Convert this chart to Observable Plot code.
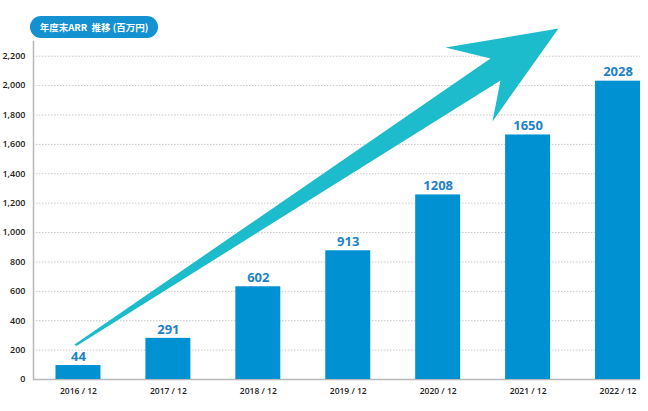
<!DOCTYPE html>
<html>
<head>
<meta charset="utf-8">
<script src="https://cdn.jsdelivr.net/npm/d3@7"></script>
<script src="https://cdn.jsdelivr.net/npm/@observablehq/plot@0.6"></script>
<style>
  html, body { margin: 0; padding: 0; background: #fff; }
  #wrap { position: relative; width: 648px; height: 411px; font-family: "Open Sans", "Noto Sans CJK JP", sans-serif; }
  #pill { position: absolute; left: 30px; top: 16px; width: 128px; height: 22px; border-radius: 11px;
          background: #1391d1; color: #fff; font-size: 9.5px; font-weight: 700; line-height: 22px;
          text-align: center; font-family: "Noto Sans CJK JP", "Open Sans", sans-serif; z-index: 2; }
  #chart { position: absolute; left: 0; top: 0; }
</style>
</head>
<body>
<div id="wrap">
  <div id="pill">年度末ARR&nbsp; 推移 (百万円)</div>
  <div id="chart"></div>
</div>
<script>
// Years (fiscal year end, December)
const years = [2016, 2017, 2018, 2019, 2020, 2021, 2022];
// Printed ARR labels (百万円)
const arrLabels = [44, 291, 602, 913, 1208, 1650, 2028];
// Bar heights as drawn against the axis in the picture
const barLevels = [95, 280, 631, 876, 1256, 1664, 2030];
// Y-axis tick values
const yTicks = [0, 200, 400, 600, 800, 1000, 1200, 1400, 1600, 1800, 2000, 2200];
// Decorative growth arrow outline, in (year, value) data space
const arrowX = [2015.956, 2020.582, 2020.081, 2021.338, 2020.604, 2020.693, 2015.978];
const arrowY = [238, 2184, 2259, 2388, 1756, 2035, 228];

const data = years.map((y, i) => ({year: y, bar: barLevels[i], label: arrLabels[i]}));
const arrow = arrowX.map((x, i) => ({x, y: arrowY[i]}));

const plot = Plot.plot({
  width: 648,
  height: 411,
  marginLeft: 33,
  marginRight: 8,
  marginTop: 41,
  marginBottom: 32,
  style: {fontFamily: "'Open Sans', sans-serif", background: "transparent"},
  x: {domain: [2015.5, 2022.25]},
  y: {domain: [0, 2300]},
  marks: [
    Plot.ruleY(yTicks.filter(d => d > 0), {stroke: "#c8c8c8", strokeDasharray: "1.5,1.5", strokeWidth: 1}),
    Plot.frame({anchor: "left", stroke: "#b8b8b8", strokeWidth: 1.5}),
    Plot.ruleY([0], {stroke: "#b8b8b8", strokeWidth: 1.5}),
    Plot.rectY(data, {x1: d => d.year - 0.25, x2: d => d.year + 0.25, y: "bar", fill: "#0091d2"}),
    Plot.text(data, {x: "year", y: "bar", text: d => String(d.label), dy: -9, fill: "#1e82c4",
      fontSize: 13, fontWeight: 700}),
    Plot.line(arrow, {x: "x", y: "y", fill: "#1dbccc", stroke: "none"}),
    Plot.axisY({ticks: yTicks, tickFormat: d3.format(","), tickSize: 0, tickPadding: 8,
      fontSize: 9, fontWeight: 600, fill: "#222", label: null}),
    Plot.axisX({ticks: years, tickFormat: d => `${d} / 12`, tickSize: 0, tickPadding: 8,
      fontSize: 8.5, fontWeight: 600, fill: "#222", label: null})
  ]
});
document.getElementById("chart").appendChild(plot);
</script>
</body>
</html>
